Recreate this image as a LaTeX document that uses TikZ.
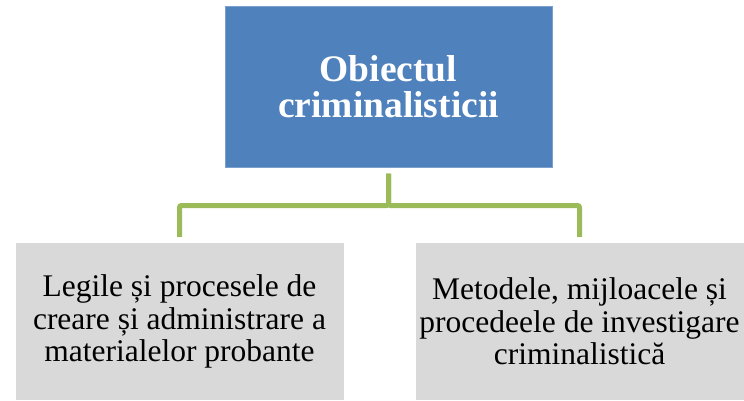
\documentclass[tikz,border=0pt]{standalone}
\usepackage{fontspec}
\setmainfont{Liberation Serif}
\definecolor{topblue}{HTML}{4F81BD}
\definecolor{linkgreen}{HTML}{9BBB59}
\definecolor{boxgray}{HTML}{D9D9D9}
\begin{document}
\begin{tikzpicture}[x=1pt,y=1pt,
 topbox/.style={fill=topblue,draw=topblue!75!white,line width=1pt,text=white,align=center,minimum width=327pt,minimum height=160pt,font=\fontsize{37.5}{36}\selectfont\bfseries},
 subbox/.style={fill=boxgray,align=center,minimum width=328pt,minimum height=157pt,font=\fontsize{31.5}{32.5}\selectfont},
 link/.style={linkgreen,line width=5pt,rounded corners=2pt,shorten <=6pt,shorten >=6pt}]
\useasboundingbox(0,0)rectangle(744,-401);
\node[topbox](obiect)at(388.5,-87){Obiectul\\criminalisticii};
\node[subbox](legile)at(179.5,-321.5){Legile și procesele de\\creare și administrare a\\materialelor probante};
\node[subbox](metode)at(579.5,-321.5){Metodele, mijloacele și\\procedeele de investigare\\criminalistică};
\draw[link](obiect.south)--++(0,-38)-|(legile.north);
\draw[link](obiect.south)--++(0,-38)-|(metode.north);
\end{tikzpicture}
\end{document}
